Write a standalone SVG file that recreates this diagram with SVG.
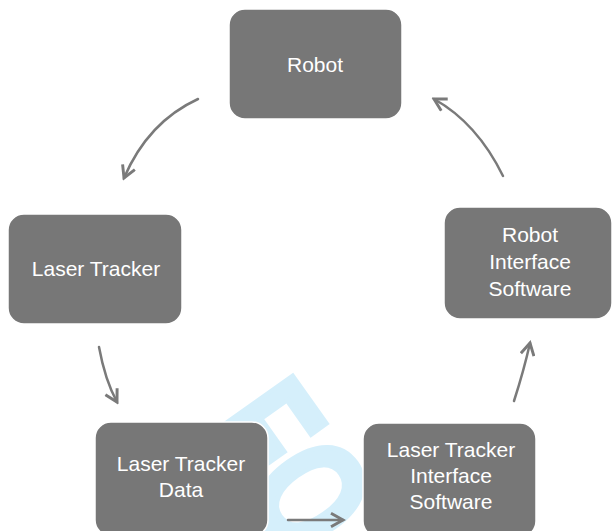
<svg xmlns="http://www.w3.org/2000/svg" width="613" height="531" viewBox="0 0 613 531">
<defs>
<style>
.box{fill:#777777;stroke:#ffffff;stroke-width:1.5}
.lbl{fill:#ffffff;font-family:"Liberation Sans",Arial,sans-serif;font-size:21px;text-anchor:middle}
.wm{fill:#d5effb;stroke:#d5effb;stroke-width:6;stroke-linejoin:miter;font-family:"Liberation Sans",Arial,sans-serif;font-weight:bold;font-size:156px}
.conn{fill:none;stroke:#7a7a7a;stroke-width:2.5;stroke-linecap:round}
</style>
<marker id="ah" markerUnits="userSpaceOnUse" markerWidth="16" markerHeight="16" viewBox="0 0 12 12" refX="10" refY="6" orient="auto">
<path d="M1,1 L10,6 L1,11" fill="none" stroke="#7a7a7a" stroke-width="2.2" stroke-linejoin="miter"/>
</marker>
</defs>
<rect width="613" height="531" fill="#ffffff"/>
<g id="watermark">
<text class="wm" transform="translate(200,432) rotate(54.7) scale(0.74,1)">FO</text>
</g>
<g id="robot">
<rect class="box" x="229" y="9" width="173" height="110" rx="16"/>
<text class="lbl" x="315" y="72">Robot</text>
</g>
<g id="laser-tracker">
<rect class="box" x="8" y="214" width="174" height="110" rx="16"/>
<text class="lbl" x="96" y="276">Laser Tracker</text>
</g>
<g id="laser-tracker-data">
<rect class="box" x="95" y="422" width="173" height="114" rx="16"/>
<text class="lbl" x="181" y="471">Laser Tracker</text>
<text class="lbl" x="181" y="497">Data</text>
</g>
<g id="laser-tracker-interface-software">
<rect class="box" x="363" y="423" width="173" height="114" rx="16"/>
<text class="lbl" x="451" y="457">Laser Tracker</text>
<text class="lbl" x="451" y="483">Interface</text>
<text class="lbl" x="451" y="509">Software</text>
</g>
<g id="robot-interface-software">
<rect class="box" x="444" y="207" width="168" height="112" rx="16"/>
<text class="lbl" x="530" y="242">Robot</text>
<text class="lbl" x="530" y="269">Interface</text>
<text class="lbl" x="530" y="296">Software</text>
</g>
<g id="connectors">
<path class="conn" d="M198,99 Q148,122 124,178" marker-end="url(#ah)"/>
<path class="conn" d="M99,347 Q105,380 117,402" marker-end="url(#ah)"/>
<path class="conn" d="M288,520 L343,520" marker-end="url(#ah)"/>
<path class="conn" d="M514,401 Q524,370 530,343" marker-end="url(#ah)"/>
<path class="conn" d="M503,176 Q477,123 434,99" marker-end="url(#ah)"/>
</g>
</svg>
